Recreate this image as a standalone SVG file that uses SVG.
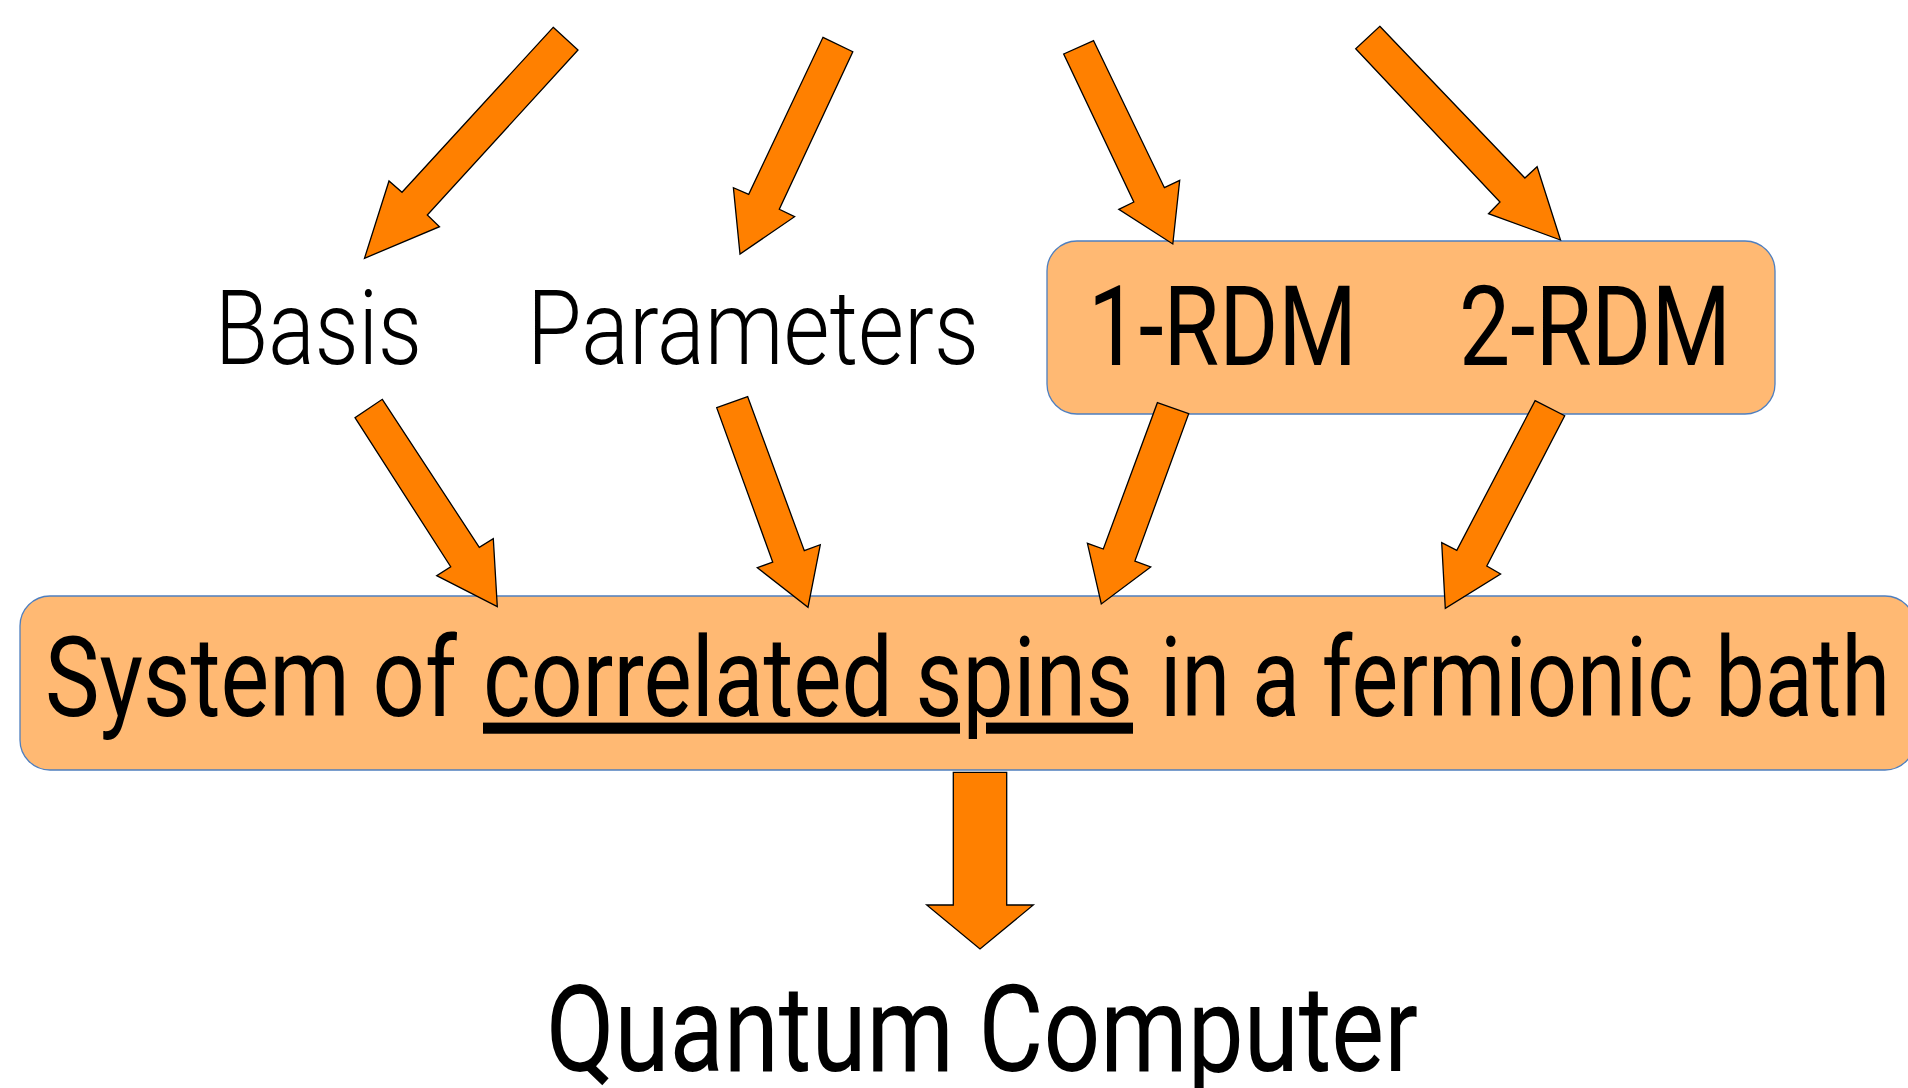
<svg xmlns="http://www.w3.org/2000/svg" width="1908" height="1088" viewBox="0 0 1908 1088">
<style>
.box{fill:#FFB973;stroke:#4F7FBF;stroke-width:1.3}
.arr{fill:#FF8000;stroke:#000;stroke-width:1.3;stroke-linejoin:miter}
.t{font-family:Roboto,"Liberation Sans",sans-serif;fill:#000}
.light{font-weight:300;font-size:104px}
.reg{font-weight:400;font-size:111px}
.big{font-weight:400;font-size:120px}
</style>
<rect width="1908" height="1088" fill="#fff"/>
<g id="node-basis"><text class="t light" x="215" y="364" textLength="207" lengthAdjust="spacingAndGlyphs">Basis</text></g>
<g id="node-parameters"><text class="t light" x="527" y="364" textLength="452" lengthAdjust="spacingAndGlyphs">Parameters</text></g>
<g id="node-rdm">
<rect class="box" x="1047" y="241" width="728" height="173" rx="30" ry="30"/>
<text class="t reg" x="1088" y="365" textLength="269" lengthAdjust="spacingAndGlyphs">1-RDM</text>
<text class="t reg" x="1459" y="365" textLength="272" lengthAdjust="spacingAndGlyphs">2-RDM</text>
</g>
<g id="node-system">
<rect class="box" x="20" y="596" width="1895" height="174" rx="30" ry="30"/>
<text class="t reg" y="716" transform="scale(0.8,1)"><tspan x="56.25" textLength="515" lengthAdjust="spacingAndGlyphs">System of</tspan><tspan x="603.75" textLength="812.5" lengthAdjust="spacingAndGlyphs" text-decoration="underline">correlated spins</tspan><tspan x="1450" textLength="912.5" lengthAdjust="spacingAndGlyphs">in a fermionic bath</tspan></text>
</g>
<g id="node-quantum"><text class="t big" x="546" y="1071" textLength="872" lengthAdjust="spacingAndGlyphs">Quantum Computer</text></g>
<g id="connectors">
<polygon class="arr" points="553.2,27.3 578,50 427.3,215 439.5,226.7 364.5,258.3 389,181 402,192.3"/>
<polygon class="arr" points="823,37.3 852.8,51.7 779.3,209.3 794.6,216.7 740,254 733.4,187.7 748.7,194.3"/>
<polygon class="arr" points="1093.6,40.7 1164.4,187.7 1179.7,180.3 1172.8,244 1118.8,209.3 1133.8,202 1063.7,54"/>
<polygon class="arr" points="1379.8,26.3 1524.9,178 1537.1,166.7 1560.5,240 1488.5,213.7 1500,202 1355.7,48.7"/>
<polygon class="arr" points="1157.4,402.7 1188.7,413.7 1134.9,561 1150.7,567 1101.3,604 1087.4,543.3 1103.3,549"/>
<polygon class="arr" points="1535.1,400.7 1564.7,415.7 1486.8,566 1500.6,574 1445.3,608.3 1441.7,542.7 1456.8,550.3"/>
<polygon class="arr" points="382.3,399.3 479.3,547.3 493.3,538.7 497.3,606.7 436.7,575.7 450.7,566.7 355,417.7"/>
<polygon class="arr" points="747.7,396.7 804.3,550.7 820.3,544.7 808,607.3 757.3,567.7 772.7,562 716.7,407.7"/>
<polygon class="arr" points="953.3,772.3 1006.7,772.3 1006.7,905 1033.3,905 980,949 926.7,905 953.3,905"/>
</g>
</svg>
